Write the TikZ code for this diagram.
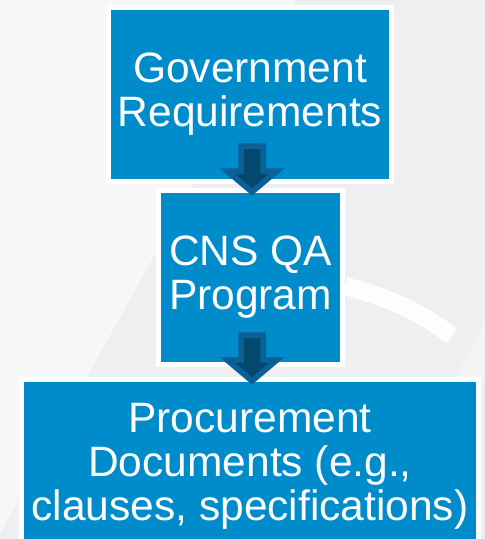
\documentclass[tikz,border=0pt]{standalone}
\usepackage{fontspec}
\setmainfont{Liberation Sans}
\usetikzlibrary{calc}

\definecolor{boxblue}{HTML}{008BCB}
\definecolor{arrowfill}{HTML}{03496E}
\definecolor{arrowedge}{HTML}{0B6196}
\definecolor{bglight}{HTML}{F7F7F7}
\definecolor{bgdark}{HTML}{EFEFF1}

\begin{document}
\begin{tikzpicture}[x=1pt,y=-1pt,
        stage/.style={fill=boxblue, draw=white, line width=5pt, text=white,
            align=center, inner sep=0pt, font=\fontsize{42.5}{44}\selectfont},
        flow/.style={fill=arrowfill, draw=arrowedge, line width=5.5pt, line join=miter}]
            \useasboundingbox (0,0) rectangle (485,539);

            % background
            \fill[bgdark] (0,0) rectangle (485,539);
            \fill[bglight] (0,0) -- (296,0) -- (-3,539) -- (0,539) -- cycle;
            \fill[bglight!60!bgdark] (455,378) -- (485,322) -- (485,378) -- cycle;
            \draw[white, line width=18pt, opacity=.9] (345,286) .. controls (390,298) and (420,312) .. (452,336);

            \node[stage, minimum width=283pt, minimum height=174pt] (gov) at (250,94.5) {Government\\Requirements};
            \node[stage, minimum width=184pt, minimum height=174pt] (cns) at (250.5,277.5) {CNS QA\\Program};
            \node[stage, minimum width=457pt, minimum height=174pt] (proc) at (250,466.5) {Procurement\\Documents (e.g.,\\clauses, specifications)};

            \coordinate (tipA) at ($(cns.north)+(1.5,4)$);
            \coordinate (tipB) at ($(proc.north)+(2,4)$);

            \draw[flow] ($(tipA)+(-11,-46)$) -- ++(22,0) -- ++(0,25) -- ++(14,0) -- (tipA) -- ++(-25,-21) -- ++(14,0) -- cycle;
            \draw[flow] ($(tipB)+(-11,-46)$) -- ++(22,0) -- ++(0,25) -- ++(14,0) -- (tipB) -- ++(-25,-21) -- ++(14,0) -- cycle;
        \end{tikzpicture}
\end{document}
